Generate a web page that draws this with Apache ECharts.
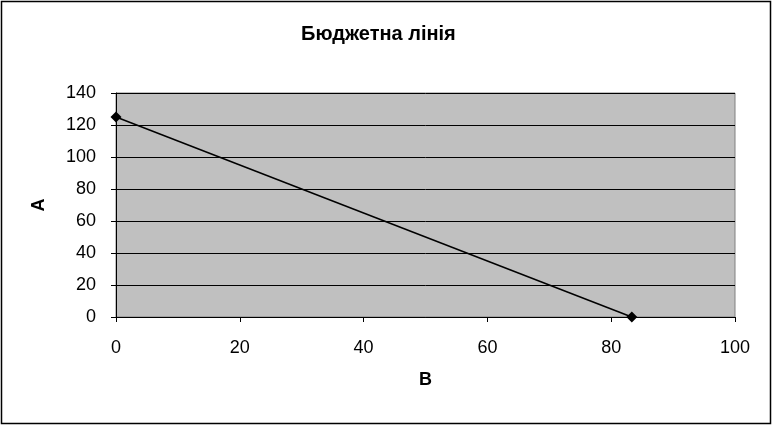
<!DOCTYPE html>
<html><head><meta charset="utf-8">
<script src="https://cdn.jsdelivr.net/npm/echarts@6/dist/echarts.min.js"></script>
<style>html,body{margin:0;padding:0;background:#fff}#c{width:773px;height:427px}</style>
</head><body><div id="c"></div>
<script>
const titleText = 'Бюджетна лінія';
const xName = 'B';
const yName = 'A';
const budgetB = [0, 83.33];
const budgetA = [125, 0];

const chart = echarts.init(document.getElementById('c'));
const font = '"Liberation Sans", Arial, sans-serif';
chart.setOption({
  animation: false,
  backgroundColor: '#fff',
  title: {
    text: titleText, left: 296, top: 19,
    textStyle: {fontFamily: font, fontSize: 20, fontWeight: 'bold', color: '#000'}
  },
  grid: {
    left: 116, right: 38, top: 93, bottom: 110,
    show: true, backgroundColor: '#C0C0C0', borderColor: '#808080', borderWidth: 1
  },
  xAxis: {
    type: 'value', min: 0, max: 100, interval: 20,
    name: xName, nameLocation: 'middle', nameGap: 54,
    nameTextStyle: {fontFamily: font, fontSize: 18, fontWeight: 'bold', color: '#000'},
    axisLine: {show: true, lineStyle: {color: '#000', width: 1}},
    axisTick: {show: true, length: 5, lineStyle: {color: '#000'}},
    axisLabel: {fontFamily: font, fontSize: 18, color: '#000', margin: 22},
    splitLine: {show: false}
  },
  yAxis: {
    type: 'value', min: 0, max: 140, interval: 20,
    name: yName, nameLocation: 'middle', nameGap: 68, nameRotate: 90,
    nameTextStyle: {fontFamily: font, fontSize: 18, fontWeight: 'bold', color: '#000'},
    axisLine: {show: true, lineStyle: {color: '#000', width: 1}},
    axisTick: {show: true, length: 5, lineStyle: {color: '#000'}},
    axisLabel: {fontFamily: font, fontSize: 18, color: '#000', margin: 20},
    splitLine: {show: true, lineStyle: {color: '#000', width: 1}}
  },
  series: [{
    type: 'line',
    data: budgetB.map((b, i) => [b, budgetA[i]]),
    symbol: 'diamond', symbolSize: 11,
    itemStyle: {color: '#000'},
    lineStyle: {color: '#000', width: 1.5}
  }],
  graphic: [{
    type: 'rect', shape: {x: 1.5, y: 1.5, width: 769, height: 422},
    style: {fill: 'none', stroke: '#000', lineWidth: 1.5}, silent: true
  }]
});
</script></body></html>
